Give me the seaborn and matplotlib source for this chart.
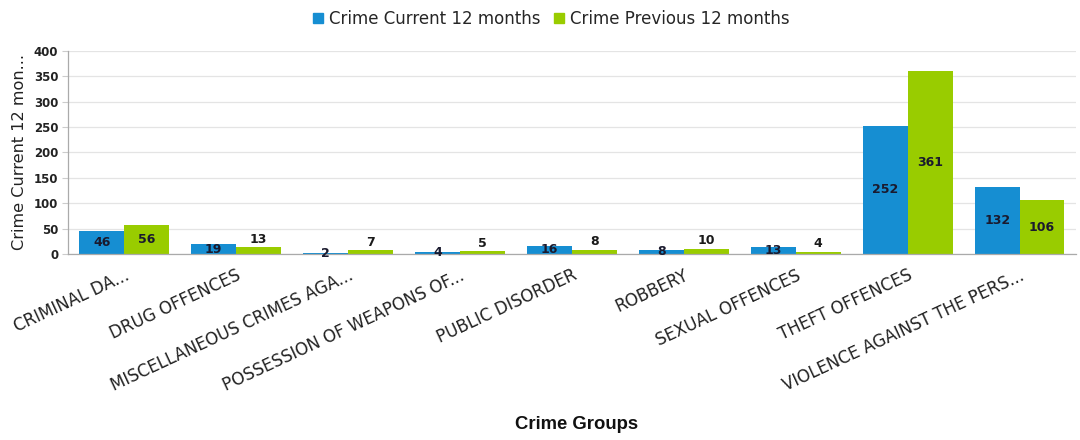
import matplotlib
matplotlib.use("Agg")
import matplotlib.pyplot as plt
import matplotlib.transforms as mtrans
from matplotlib.lines import Line2D
import seaborn as sns
import pandas as pd

categories = ["CRIMINAL DA...", "DRUG OFFENCES", "MISCELLANEOUS CRIMES AGA...",
              "POSSESSION OF WEAPONS OF...", "PUBLIC DISORDER", "ROBBERY",
              "SEXUAL OFFENCES", "THEFT OFFENCES", "VIOLENCE AGAINST THE PERS..."]
current = [46, 19, 2, 4, 16, 8, 13, 252, 132]
previous = [56, 13, 7, 5, 8, 10, 4, 361, 106]
series = ["Crime Current 12 months", "Crime Previous 12 months"]
colors = ["#168ed2", "#99cc00"]
y_ticks = [0, 50, 100, 150, 200, 250, 300, 350, 400]

df = pd.DataFrame({
    "group": categories * 2,
    "series": [series[0]] * len(categories) + [series[1]] * len(categories),
    "value": current + previous,
})

sns.set_theme(style="white")
plt.rcParams["font.family"] = ["DejaVu Sans"]

fig = plt.figure(figsize=(10.8, 4.4), dpi=100)
ax = fig.add_axes([0.063, 0.423, 0.933, 0.461])

sns.barplot(data=df, x="group", y="value", hue="series", order=categories,
            hue_order=series, palette=colors, errorbar=None, width=0.8,
            saturation=1, legend=False, ax=ax, linewidth=0)

ax.set_ylim(0, 400)
ax.set_xlim(-0.5, len(categories) - 0.5)
ax.set_yticks(y_ticks)
ax.set_yticklabels([str(t) for t in y_ticks], fontsize=8.5, fontweight="bold", color="#222222")
ax.yaxis.grid(True, color="#e4e4e4", linewidth=0.9)
ax.set_axisbelow(True)

ax.set_xticks(range(len(categories)))
ax.set_xticklabels(categories, rotation=25, ha="right", rotation_mode="anchor",
                   fontsize=12, color="#222222")
offset = mtrans.ScaledTranslation(6 / 100, 0, fig.dpi_scale_trans)
for lbl in ax.get_xticklabels():
    lbl.set_transform(lbl.get_transform() + offset)
ax.tick_params(axis="x", which="major", length=0, pad=9)
ax.set_xticks([i - 0.5 for i in range(len(categories) + 1)], minor=True)
ax.tick_params(axis="x", which="minor", length=5, color="#999999", width=0.8)
ax.tick_params(axis="y", which="major", length=4, color="#cccccc", width=0.8, pad=3, left=True)

for s in ["top", "right"]:
    ax.spines[s].set_visible(False)
for s in ["left", "bottom"]:
    ax.spines[s].set_color("#aaaaaa")
    ax.spines[s].set_linewidth(0.9)

# value labels
for ci, cont in enumerate(ax.containers):
    for bar in cont:
        h = bar.get_height()
        xc = bar.get_x() + bar.get_width() / 2
        if ci == 0 or h > 30:
            ax.text(xc, h / 2, f"{int(round(h))}", ha="center", va="center",
                    fontsize=9, fontweight="bold", color="#1a1a2e")
        else:
            ax.annotate(f"{int(round(h))}", (xc, h), xytext=(0, 1),
                        textcoords="offset points", ha="center", va="bottom",
                        fontsize=9, fontweight="bold", color="#1a1a1a")

ax.set_ylabel("Crime Current 12 mon...", fontsize=11.6, color="#222222", labelpad=5)
ax.set_xlabel("")
fig.text(0.534, 0.035, "Crime Groups", ha="center", va="center",
         fontsize=13.3, fontweight="bold", family=["Liberation Sans", "DejaVu Sans"],
         color="#111111")

handles = [Line2D([], [], marker="s", linestyle="none", markersize=7,
                  markerfacecolor=c, markeredgecolor=c) for c in colors]
fig.legend(handles, series, loc="upper center", bbox_to_anchor=(0.509, 1.012),
           ncol=2, frameon=False, fontsize=12, handletextpad=0.15,
           columnspacing=0.6, handlelength=1.0)

fig.savefig("out.png", dpi=100)
